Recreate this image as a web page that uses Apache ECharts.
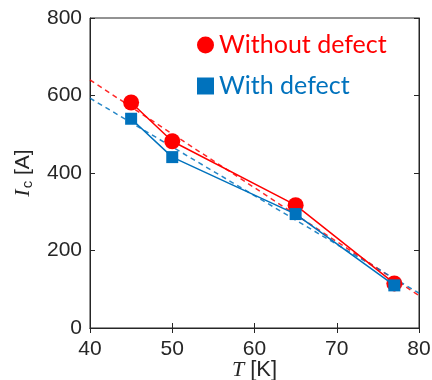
<!DOCTYPE html>
<html><head><meta charset="utf-8">
<script src="https://cdn.jsdelivr.net/npm/echarts@6/dist/echarts.min.js"></script>
<style>html,body{margin:0;padding:0;background:#fff}#c{width:432px;height:380px}</style>
</head><body><div id="c"></div>
<script>
const temps = [45, 50, 65, 77];
const withoutDefect = [582, 482, 317, 115];
const withDefect = [540, 441, 294, 110];
const fitWithoutT = [40, 80];
const fitWithout = [640, 84];
const fitWithT = [40, 80];
const fitWith = [593, 90];
const xTicks = [40, 50, 60, 70, 80];
const yTicks = [0, 200, 400, 600, 800];

const RED = '#ff0000', BLUE = '#0072bd';
const chart = echarts.init(document.getElementById('c'));
const zip = (a, b) => a.map((v, i) => [v, b[i]]);
const axisLine = {show: true, lineStyle: {color: '#262626', width: 1}};
const tick = {show: true, inside: true, length: 5, lineStyle: {color: '#262626'}};
const lab = {color: '#262626', fontSize: 21, fontFamily: 'Liberation Sans, Arial, sans-serif'};
chart.setOption({
  animation: false,
  grid: {left: 90, right: 13, top: 18, bottom: 52, show: true, borderColor: '#262626', borderWidth: 1,
         containLabel: false, outerBoundsMode: 'none'},
  legend: {
    orient: 'vertical', left: 192, top: 26, itemGap: 13, itemWidth: 17, itemHeight: 17,
    data: [
      {name: 'Without defect', icon: 'circle', textStyle: {color: RED}},
      {name: 'With defect', icon: 'rect', textStyle: {color: BLUE}}
    ],
    textStyle: {fontSize: 25, lineHeight: 28, fontFamily: 'Lato, Noto Sans, sans-serif'}
  },
  xAxis: [
    {type: 'value', min: xTicks[0], max: xTicks[xTicks.length - 1], interval: 10,
     axisLine, axisTick: tick, splitLine: {show: false},
     axisLabel: Object.assign({margin: 11}, lab),
     name: '{i|T} [K]', nameLocation: 'middle', nameGap: 31, nameMoveOverlap: false,
     nameTextStyle: {color: '#262626', fontSize: 22, fontFamily: 'Liberation Sans, Arial, sans-serif',
       rich: {i: {fontStyle: 'italic', fontSize: 22, fontFamily: 'Liberation Serif, serif', color: '#262626'}}}},
    {type: 'value', position: 'top', min: 40, max: 80, interval: 10,
     axisLine, axisTick: tick, axisLabel: {show: false}, splitLine: {show: false}}
  ],
  yAxis: [
    {type: 'value', min: yTicks[0], max: yTicks[yTicks.length - 1], interval: 200,
     axisLine, axisTick: tick, splitLine: {show: false},
     axisLabel: Object.assign({margin: 8}, lab),
     name: '{i|I}{s|c} [A]', nameLocation: 'middle', nameGap: 55, nameMoveOverlap: false,
     nameTextStyle: {color: '#262626', fontSize: 21, fontFamily: 'Liberation Sans, Arial, sans-serif',
       rich: {i: {fontStyle: 'italic', fontSize: 22, fontFamily: 'Liberation Serif, serif', color: '#262626'},
              s: {fontSize: 15, verticalAlign: 'bottom', padding: [8, 0, 0, 1], fontFamily: 'Liberation Sans, Arial, sans-serif', color: '#262626'}}}},
    {type: 'value', position: 'right', min: 0, max: 800, interval: 200,
     axisLine, axisTick: tick, axisLabel: {show: false}, splitLine: {show: false}}
  ],
  series: [
    {name: 'Without defect', type: 'line', data: zip(temps, withoutDefect), symbol: 'circle', symbolSize: 16,
     itemStyle: {color: RED}, lineStyle: {color: RED, width: 1.5}, z: 4},
    {name: 'With defect', type: 'line', data: zip(temps, withDefect), symbol: 'rect', symbolSize: 12,
     itemStyle: {color: BLUE}, lineStyle: {color: BLUE, width: 1.5}, z: 5},
    {name: 'fitWithout', type: 'line', data: zip(fitWithoutT, fitWithout), symbol: 'none',
     lineStyle: {color: RED, width: 1.5, type: [5, 4], opacity: 0.85}, z: 2},
    {name: 'fitWith', type: 'line', data: zip(fitWithT, fitWith), symbol: 'none',
     lineStyle: {color: BLUE, width: 1.5, type: [5, 4], opacity: 0.85}, z: 2}
  ]
});
</script></body></html>
